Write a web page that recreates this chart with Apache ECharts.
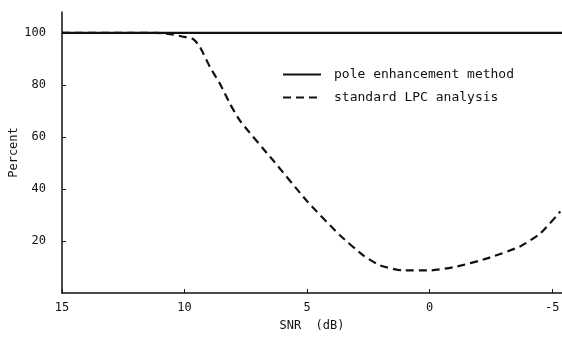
<!DOCTYPE html>
<html>
<head>
<meta charset="utf-8">
<script src="https://cdn.jsdelivr.net/npm/echarts@6/dist/echarts.min.js"></script>
<style>html,body{margin:0;padding:0;background:#fff}#c{width:562px;height:342px}</style>
</head>
<body>
<div id="c"></div>
<script>
// SNR (dB) and percent values
const poleSNR = [15, -5.4];
const polePct = [100, 100];
const lpcSNR = [15, 11.2, 10.59, 10.1, 9.65, 9.37, 8.96, 8.55, 8.14, 7.73, 6.39, 5.0, 3.65, 2.71, 2.02, 1.08, -0.02, -1.12, -2.35, -3.69, -4.51, -5.33];
const lpcPct = [100, 100, 99.5, 98.6, 97.6, 94.5, 86.8, 80.3, 72.6, 66.1, 51.0, 35.3, 22.1, 14.5, 10.6, 8.7, 8.7, 10.2, 13.3, 17.9, 22.9, 31.3];
const xTicks = [15, 10, 5, 0, -5];
const yTicks = [20, 40, 60, 80, 100];
const seriesNames = ['pole enhancement method', 'standard LPC analysis'];

const font = '"DejaVu Sans Mono", "Liberation Mono", monospace';
const chart = echarts.init(document.getElementById('c'));
chart.setOption({
  animation: false,
  backgroundColor: '#fff',
  grid: { left: 62, right: 0, top: 12, bottom: 49, containLabel: false, outerBoundsMode: 'none' },
  legend: {
    orient: 'vertical', left: 277, top: 63, itemWidth: 38, itemHeight: 10, itemGap: 10,
    itemStyle: { opacity: 0 },
    textStyle: { fontFamily: font, fontSize: 13, color: '#111', padding: [0, 0, 0, 8] },
    data: seriesNames
  },
  xAxis: {
    type: 'value', inverse: true, min: -5.4, max: 15,
    name: 'SNR  (dB)', nameLocation: 'middle', nameGap: 27, nameMoveOverlap: false,
    nameTextStyle: { fontFamily: font, fontSize: 12, color: '#111' },
    axisLine: { onZero: false, lineStyle: { color: '#111', width: 1.5 } },
    axisTick: { inside: true, length: 4, customValues: xTicks, lineStyle: { color: '#111' } },
    axisLabel: { customValues: xTicks, margin: 9, fontFamily: font, fontSize: 12, color: '#111', hideOverlap: false },
    splitLine: { show: false }
  },
  yAxis: {
    type: 'value', min: 0, max: 108,
    name: 'Percent', nameLocation: 'middle', nameGap: 42, nameMoveOverlap: false,
    nameTextStyle: { fontFamily: font, fontSize: 12, color: '#111' },
    axisLine: { show: true, onZero: false, lineStyle: { color: '#111', width: 1.5 } },
    axisTick: { show: true, inside: true, length: 4, customValues: yTicks, lineStyle: { color: '#111' } },
    axisLabel: { customValues: yTicks, margin: 16, fontFamily: font, fontSize: 12, color: '#111' },
    splitLine: { show: false }
  },
  series: [
    {
      name: seriesNames[0], type: 'line', symbol: 'none',
      data: poleSNR.map((x, i) => [x, polePct[i]]),
      lineStyle: { color: '#111', width: 2.2, type: 'solid' }, itemStyle: { color: '#111' }
    },
    {
      name: seriesNames[1], type: 'line', symbol: 'none', smooth: 0.2,
      data: lpcSNR.map((x, i) => [x, lpcPct[i]]),
      lineStyle: { color: '#111', width: 2.2, type: [8, 5] }, itemStyle: { color: '#111' }
    }
  ]
});
</script>
</body>
</html>
